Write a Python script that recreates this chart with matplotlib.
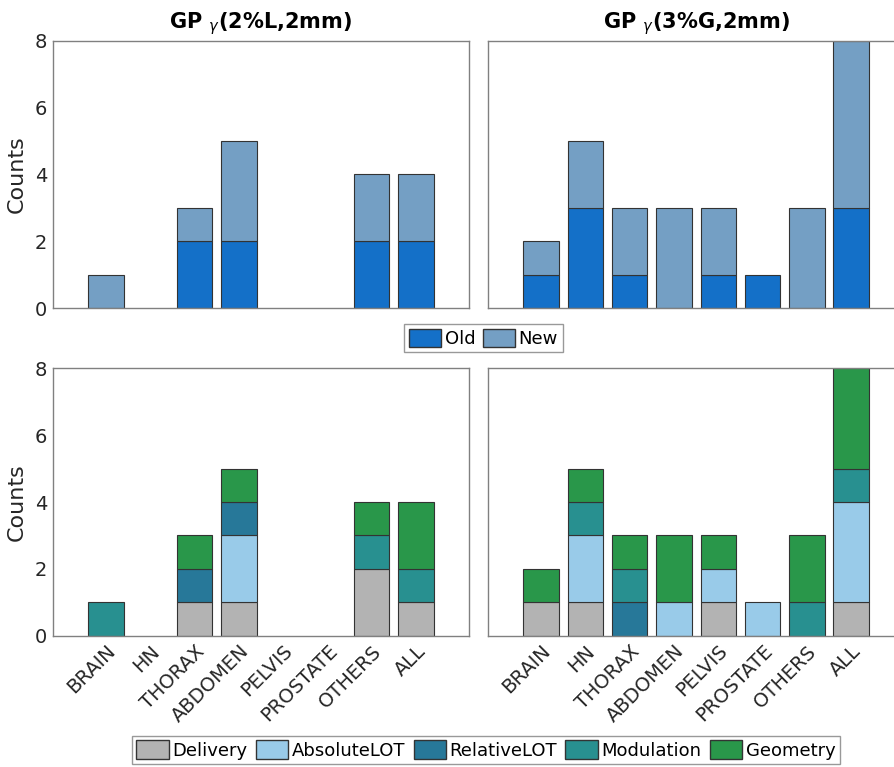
import numpy as np
import matplotlib.pyplot as plt
from matplotlib.patches import Patch

sites = ['BRAIN', 'HN', 'THORAX', 'ABDOMEN', 'PELVIS', 'PROSTATE', 'OTHERS', 'ALL']

# top row: old / new counts
old_L = [0, 0, 2, 2, 0, 0, 2, 2]
new_L = [1, 0, 1, 3, 0, 0, 2, 2]
old_G = [1, 3, 1, 0, 1, 1, 0, 3]
new_G = [1, 2, 2, 3, 2, 0, 3, 5]

# bottom row: counts by cause
causes = ['Delivery', 'AbsoluteLOT', 'RelativeLOT', 'Modulation', 'Geometry']
cause_L = {
    'Delivery':    [0, 0, 1, 1, 0, 0, 2, 1],
    'AbsoluteLOT': [0, 0, 0, 2, 0, 0, 0, 0],
    'RelativeLOT': [0, 0, 1, 1, 0, 0, 0, 0],
    'Modulation':  [1, 0, 0, 0, 0, 0, 1, 1],
    'Geometry':    [0, 0, 1, 1, 0, 0, 1, 2],
}
cause_G = {
    'Delivery':    [1, 1, 0, 0, 1, 0, 0, 1],
    'AbsoluteLOT': [0, 2, 0, 1, 1, 1, 0, 3],
    'RelativeLOT': [0, 0, 1, 0, 0, 0, 0, 0],
    'Modulation':  [0, 1, 1, 0, 0, 0, 1, 1],
    'Geometry':    [1, 1, 1, 2, 1, 0, 2, 3],
}

age_colors = {'Old': '#1470c8', 'New': '#749fc4'}
cause_colors = {
    'Delivery': '#b3b3b3',
    'AbsoluteLOT': '#99cbe9',
    'RelativeLOT': '#277899',
    'Modulation': '#289090',
    'Geometry': '#29974a',
}

plt.rcParams['font.family'] = 'DejaVu Sans'
fig = plt.figure(figsize=(8.95, 7.67), dpi=100)

W = 0.465
H = 0.349
ax_tl = fig.add_axes([0.0592, 0.598, W, H])
ax_tr = fig.add_axes([0.5453, 0.598, W, H])
ax_bl = fig.add_axes([0.0592, 0.171, W, H])
ax_br = fig.add_axes([0.5453, 0.171, W, H])

x = np.arange(1, len(sites) + 1)
bw = 0.8
edge = dict(edgecolor='#333333', linewidth=0.8)


def stack(ax, parts, colors):
    bottom = np.zeros(len(sites))
    for name, vals in parts:
        vals = np.array(vals, dtype=float)
        keep = vals > 0  # skip empty segments so no flat outline is drawn
        ax.bar(x[keep], vals[keep], bw, bottom=bottom[keep], color=colors[name], **edge)
        bottom += vals


stack(ax_tl, [('Old', old_L), ('New', new_L)], age_colors)
stack(ax_tr, [('Old', old_G), ('New', new_G)], age_colors)
stack(ax_bl, [(c, cause_L[c]) for c in causes], cause_colors)
stack(ax_br, [(c, cause_G[c]) for c in causes], cause_colors)

for ax in (ax_tl, ax_tr, ax_bl, ax_br):
    ax.set_xlim(-0.2, 9.2)
    ax.set_ylim(0, 8)
    ax.set_yticks([0, 2, 4, 6, 8])
    ax.set_xticks(x)
    ax.tick_params(length=0, labelsize=14, colors='#262626', pad=4)
    for s in ax.spines.values():
        s.set_color('#808080')
        s.set_linewidth(1.0)

for ax in (ax_tl, ax_tr):
    ax.set_xticklabels([])
for ax in (ax_tr, ax_br):
    ax.set_yticklabels([])
for ax in (ax_bl, ax_br):
    ax.set_xticklabels(sites, rotation=45, ha='right', rotation_mode='anchor')
for ax in (ax_tl, ax_bl):
    ax.set_ylabel('Counts', fontsize=16, color='#262626', labelpad=6)

ax_tl.set_title(r'GP $_{\gamma}$(2%L,2mm)', fontsize=15, fontweight='bold', pad=9)
ax_tr.set_title(r'GP $_{\gamma}$(3%G,2mm)', fontsize=15, fontweight='bold', pad=9)

age_handles = [Patch(facecolor=age_colors[k], edgecolor='#333333', label=k) for k in ['Old', 'New']]
fig.legend(handles=age_handles, loc='center', bbox_to_anchor=(0.54, 0.559), ncol=2,
           fontsize=13, frameon=True, fancybox=False, edgecolor='#808080',
           handlelength=1.8, handleheight=1.2, handletextpad=0.2, columnspacing=0.4,
           borderpad=0.25, borderaxespad=0)

cause_handles = [Patch(facecolor=cause_colors[c], edgecolor='#333333', label=c) for c in causes]
fig.legend(handles=cause_handles, loc='center', bbox_to_anchor=(0.543, 0.022), ncol=5,
           fontsize=13, frameon=True, fancybox=False, edgecolor='#808080',
           handlelength=1.8, handleheight=1.2, handletextpad=0.2, columnspacing=0.45,
           borderpad=0.25, borderaxespad=0)

fig.savefig('out.png', dpi=100)
